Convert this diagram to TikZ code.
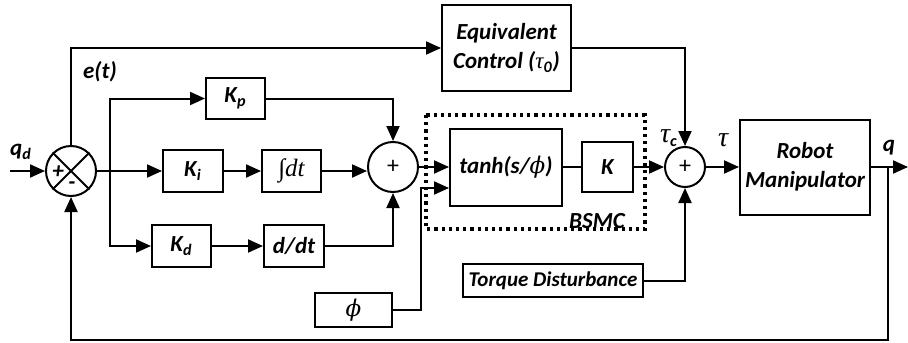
\documentclass[tikz,border=0pt]{standalone}
\usepackage{fontspec}
\setmainfont{Carlito}
\newfontfamily\grk{DejaVu Serif}
\newfontfamily\tms{Liberation Serif}
\usetikzlibrary{arrows.meta,positioning,calc}

\begin{document}
\begin{tikzpicture}[x=0.5pt,y=-0.5pt,
      font=\fontsize{11.5}{14.5}\selectfont\bfseries\itshape,
      blk/.style={draw,line width=1pt,inner sep=1pt,align=center},
      sumnode/.style={draw,circle,line width=1pt,inner sep=0pt,font=\normalfont\large},
      wire/.style={line width=1pt},
      dotbox/.style={dotted,line width=1.6pt},
      >={Triangle[length=7.5pt,width=6.5pt]}]
    \useasboundingbox (0,0) rectangle (908,342);
    % controller blocks
    \node[sumnode,minimum size=25pt] (sumErr) at (71,171) {};
    \node[blk,minimum width=29.5pt,minimum height=20.5pt] (kp) at (235.5,98.5) {K\textsubscript{p}};
    \node[blk,minimum width=30pt,minimum height=21pt] (ki) at (193,171) {K\textsubscript{i}};
    \node[blk,minimum width=29.5pt,minimum height=21pt,right=18.5pt of ki] (integ) {{\tms\mdseries\fontsize{12.5}{14}\selectfont ∫dt}};
    \node[blk,minimum width=29.5pt,minimum height=21pt] (kd) at (181.5,246) {K\textsubscript{d}};
    \node[blk,minimum width=30pt,minimum height=21pt,right=25.5pt of kd] (deriv) {d/dt};
    \node[sumnode,minimum size=25pt] (sumPid) at (393,167) {+};
    \node[blk,minimum width=38.5pt,minimum height=17pt] (phiBox) at (353.5,310) {{\grk\mdseries ϕ}};
    \node[blk,minimum width=64.5pt,minimum height=43pt] (eqCtrl) at (506.5,48) {Equivalent\\Control ({\tms\mdseries τ}\textsubscript{0})};
    \node[blk,minimum width=56pt,minimum height=38.5pt] (tanhBox) at (506,167) {tanh(s/{\grk\mdseries ϕ})};
    \node[blk,minimum width=25.5pt,minimum height=25pt,right=9pt of tanhBox] (gainK) {K};
    \node[sumnode,minimum size=20pt] (sumTau) at (685,167) {+};
    \node[blk,minimum width=65pt,minimum height=47.5pt] (robot) at (805,167) {Robot\\Manipulator};
    \node[blk,minimum width=90pt,minimum height=16.5pt,font=\fontsize{10.5}{12}\selectfont\bfseries\itshape] (torqueDist) at (553,280.5) {Torque Disturbance};
    \draw[dotbox] (426,115) rectangle (645,229);
    % labels
    \node (bsmcLbl) at (597,221) {BSMC};
    \node (etLbl) at (100,72) {e(t)};
    \node (qdLbl) at (21,152) {q\textsubscript{d}};
    \node (tauCLbl) at (669,138) {{\tms\mdseries\fontsize{14}{14}\selectfont τ}\textsubscript{c}};
    \node (tauLbl) at (723,140) {{\tms\mdseries\fontsize{14}{14}\selectfont τ}};
    \node (qLbl) at (889,148) {q};
    \node (plusErr) at (58,172) {+};
    \node (minusErr) at (72,186) {-};
    \draw[wire] (sumErr.north west) -- (sumErr.south east);
    \draw[wire] (sumErr.north east) -- (sumErr.south west);
    % coordinates
    \coordinate (qdIn) at (10,171);
    \coordinate (br) at (110,171);
    \coordinate (phiIn) at ([yshift=-10.5pt]tanhBox.west);
    \coordinate (phiKnee) at ([xshift=-14pt]phiIn);
    \coordinate (qOut) at (908,167);
    \coordinate (fb) at (888,167);
    \coordinate (fbBot) at (888,340);
    % connectors
    \draw[wire,->] (qdIn) -- (sumErr.west);
    \draw[wire,->] (sumErr.north) |- (eqCtrl.west);
    \draw[wire] (sumErr.east) -- (br);
    \draw[wire,->] (br) -- (ki.west);
    \draw[wire,->] (br) |- (kp.west);
    \draw[wire,->] (br) |- (kd.west);
    \draw[wire,->] (ki) -- (integ);
    \draw[wire,->] (kd) -- (deriv);
    \draw[wire,->] (kp.east) -| (sumPid.north);
    \draw[wire,->] (integ.east) -- (integ.east -| sumPid.west);
    \draw[wire,->] (deriv.east) -| (sumPid.south);
    \draw[wire,->] (sumPid.east) -- (tanhBox.west);
    \draw[wire,->] (phiBox.east) -| (phiKnee) -- (phiIn);
    \draw[wire] (tanhBox.east) -- (gainK.west);
    \draw[wire,->] (gainK.east) -- (sumTau.west);
    \draw[wire,->] (eqCtrl.east) -| (sumTau.north);
    \draw[wire,->] (torqueDist.east) -| (sumTau.south);
    \draw[wire,->] (sumTau.east) -- (robot.west);
    \draw[wire,->] (robot.east) -- (qOut);
    \draw[wire,->] (fb) -- (fbBot) -| (sumErr.south);
  \end{tikzpicture}
\end{document}
